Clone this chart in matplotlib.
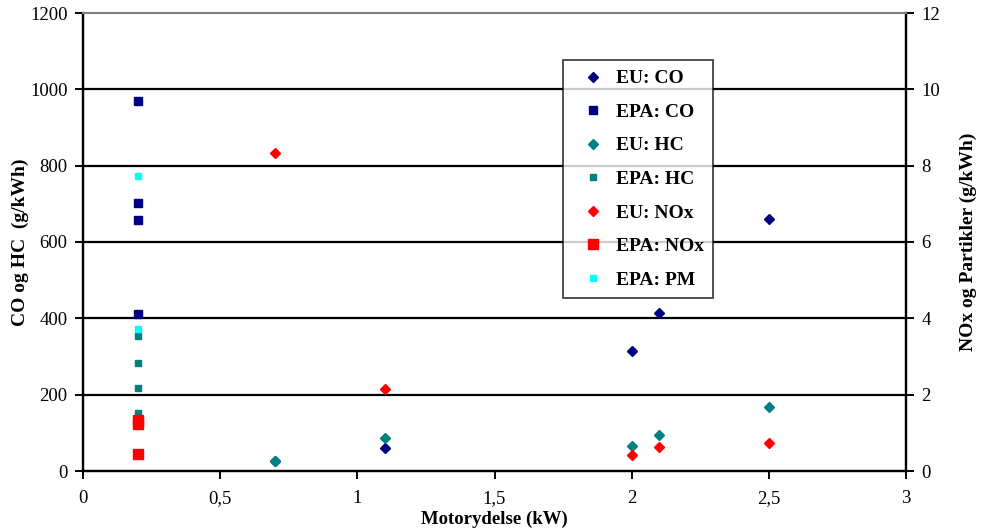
import numpy as np
import matplotlib.pyplot as plt
from matplotlib.lines import Line2D
from matplotlib.legend_handler import HandlerLine2D
from matplotlib.ticker import FuncFormatter

plt.rcParams['font.family'] = ['Liberation Serif', 'DejaVu Serif']

# Data (g/kWh) - venstre akse: CO og HC, hoejre akse: NOx og partikler
eu_x = [0.7, 1.1, 2.0, 2.1, 2.5]
eu_co = [25, 60, 314, 414, 660]
eu_hc = [26, 86, 65, 94, 168]
eu_nox = [8.33, 2.15, 0.42, 0.63, 0.73]

epa_co_x = [0.2, 0.2, 0.2, 0.2]
epa_co = [969, 702, 658, 411]
epa_hc_x = [0.2, 0.2, 0.2, 0.2]
epa_hc = [354, 283, 218, 152]
epa_nox_x = [0.2, 0.2, 0.2]
epa_nox = [1.34, 1.23, 0.45]
epa_pm_x = [0.2, 0.2]
epa_pm = [7.73, 3.72]


class MarkerRight(HandlerLine2D):
    # legg markoeren mot hoeyre i handle-feltet, naer teksten
    def get_xdata(self, legend, xdescent, ydescent, width, height, fontsize):
        xdata, _ = super().get_xdata(legend, xdescent, ydescent, width, height, fontsize)
        return xdata, np.array([-xdescent + 0.8 * width])


fig = plt.figure(figsize=(9.85, 5.28), dpi=100)
ax = fig.add_axes([83 / 985, 57 / 528, 823 / 985, 458 / 528])
ax2 = ax.twinx()

navy = '#000080'
teal = '#008080'

ax.set_xlim(0, 3)
ax.set_ylim(0, 1200)
ax2.set_ylim(0, 12)
ax.set_yticks(range(0, 1201, 200))
ax2.set_yticks(range(0, 13, 2))
ax.set_xticks([0, 0.5, 1, 1.5, 2, 2.5, 3])
ax.xaxis.set_major_formatter(FuncFormatter(lambda v, p: ('%g' % v).replace('.', ',')))

for yv in range(200, 1001, 200):
    ax.axhline(yv, color='black', lw=1.6, zorder=1)

h1, = ax.plot(eu_x, eu_co, 'D', color=navy, ms=5.5, mec=navy, label='EU: CO', zorder=3)
h2, = ax.plot(epa_co_x, epa_co, 's', color=navy, ms=6, label='EPA: CO', zorder=3)
h3, = ax.plot(eu_x, eu_hc, 'D', color=teal, ms=5.5, label='EU: HC', zorder=3)
h4, = ax.plot(epa_hc_x, epa_hc, 's', color=teal, ms=4.5, label='EPA: HC', zorder=3)
h5, = ax2.plot(eu_x, eu_nox, 'D', color='red', ms=5.5, label='EU: NOx', zorder=3)
h6, = ax2.plot(epa_nox_x, epa_nox, 's', color='red', ms=7, label='EPA: NOx', zorder=3)
h7, = ax2.plot(epa_pm_x, epa_pm, 's', color='cyan', ms=5, label='EPA: PM', zorder=2)

for a in (ax, ax2):
    a.spines['top'].set_color('#808080')
    a.spines['top'].set_linewidth(1.5)
    for s in ('left', 'right', 'bottom'):
        a.spines[s].set_linewidth(1.6)
    a.tick_params(direction='out', length=6, width=1.4, labelsize=13.5)

ax.tick_params(axis='x', pad=8)
ax.tick_params(axis='y', pad=5)
ax2.tick_params(axis='y', pad=5)
ax.set_ylabel('CO og HC  (g/kWh)', fontsize=14, fontweight='bold', labelpad=1)
ax2.set_ylabel('NOx og Partikler (g/kWh)', fontsize=14, fontweight='bold', labelpad=14)
ax.set_xlabel('Motorydelse (kW)', fontsize=13.5, fontweight='bold', labelpad=2)

leg = fig.legend(handles=[h1, h2, h3, h4, h5, h6, h7], loc='upper left',
                 bbox_to_anchor=(563 / 985, 1 - 60 / 528), frameon=True,
                 fancybox=False, edgecolor='black', prop={'weight': 'bold', 'size': 14},
                 labelspacing=0.82, handlelength=2.1, handletextpad=0.1,
                 borderpad=0.5, borderaxespad=0,
                 handler_map={Line2D: MarkerRight()})
leg.get_frame().set_linewidth(1.2)

fig.savefig('out.png', dpi=100)
